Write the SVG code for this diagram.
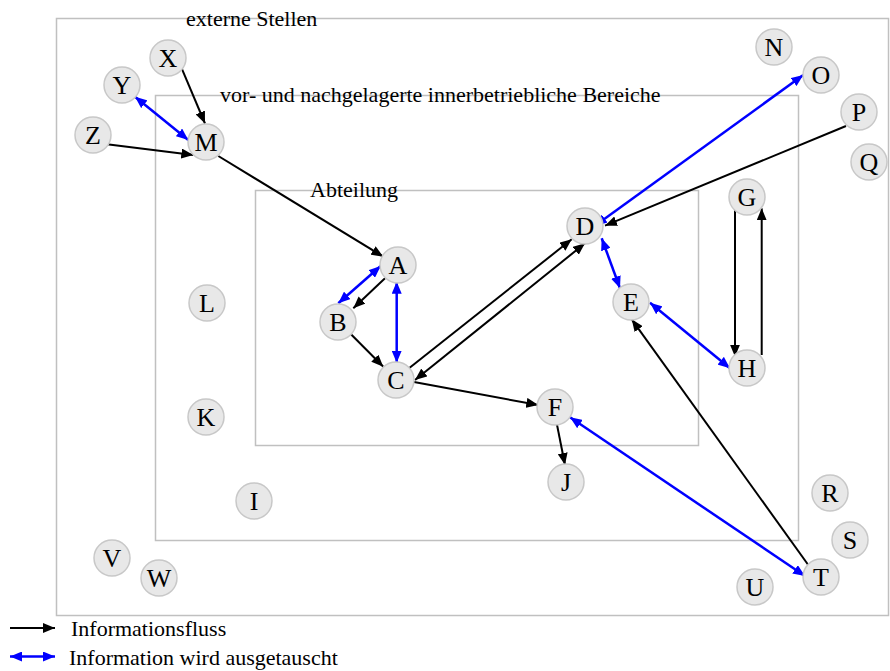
<svg xmlns="http://www.w3.org/2000/svg" width="890" height="671" viewBox="0 0 890 671">
<defs>
<style>
.area{fill:none;stroke:#c0c0c0;stroke-width:1.5}
.lbl{font-family:"Liberation Serif","Times New Roman",serif;font-size:22px;fill:#000}
.node circle{fill:#e8e8e8;stroke:#c8c8c8;stroke-width:1.5}
.node text{font-family:"Liberation Serif","Times New Roman",serif;font-size:26px;fill:#000;text-anchor:middle}
.flow{stroke:#000;stroke-width:2;fill:none;marker-end:url(#ab)}
.xchg{stroke:#0000ff;stroke-width:2.5;fill:none;marker-end:url(#au);marker-start:url(#au)}
.both{stroke:#000;stroke-width:2;fill:none;marker-end:url(#ab);marker-start:url(#ab)}
</style>
<marker id="ab" viewBox="0 0 12 10" refX="12" refY="5" markerWidth="12" markerHeight="10" markerUnits="userSpaceOnUse" orient="auto-start-reverse">
<path d="M0,0 L12,5 L0,10 z" fill="#000"/>
</marker>
<marker id="au" viewBox="0 0 12 10" refX="12" refY="5" markerWidth="12" markerHeight="10" markerUnits="userSpaceOnUse" orient="auto-start-reverse">
<path d="M0,0 L12,5 L0,10 z" fill="#0000ff"/>
</marker>
</defs>
<rect width="890" height="671" fill="#fff"/>
<g id="areas">
<rect class="area" x="56.5" y="18.5" width="832" height="597"/>
<rect class="area" x="155.5" y="95.5" width="643" height="445"/>
<rect class="area" x="255.5" y="190.5" width="443" height="255"/>
<text class="lbl" x="186" y="25.5">externe Stellen</text>
<text class="lbl" x="220" y="101.5">vor- und nachgelagerte innerbetriebliche Bereiche</text>
<text class="lbl" x="310" y="196.5">Abteilung</text>
</g>
<g id="connectors">
<line class="flow" x1="181.7" y1="68.3" x2="205" y2="123.5"/>
<line class="xchg" x1="135" y1="96.7" x2="188.3" y2="140"/>
<line class="flow" x1="105" y1="144" x2="193.3" y2="155"/>
<line class="flow" x1="218.3" y1="156" x2="383.3" y2="256.7"/>
<line class="xchg" x1="380.7" y1="266" x2="338.3" y2="303.3"/>
<line class="flow" x1="385" y1="278.3" x2="353.3" y2="308.3"/>
<line class="flow" x1="350" y1="333.3" x2="383.3" y2="366.7"/>
<line class="xchg" x1="396.7" y1="281.7" x2="396.7" y2="362.7"/>
<line class="flow" x1="409" y1="368.3" x2="571.7" y2="239.3"/>
<line class="both" x1="415" y1="380" x2="585" y2="243.3"/>
<line class="flow" x1="414" y1="382" x2="538.3" y2="405"/>
<line class="flow" x1="556.7" y1="423.3" x2="565" y2="465"/>
<line class="xchg" x1="570" y1="417.3" x2="805" y2="576"/>
<line class="flow" x1="808.3" y1="565" x2="631.7" y2="319.3"/>
<line class="xchg" x1="595" y1="225.7" x2="803.3" y2="75"/>
<line class="flow" x1="846" y1="126" x2="605" y2="225.7"/>
<line class="xchg" x1="601.7" y1="238.3" x2="620" y2="288.3"/>
<line class="xchg" x1="650" y1="302.7" x2="730" y2="368.3"/>
<line class="flow" x1="735" y1="208" x2="735" y2="356.7"/>
<line class="flow" x1="761.7" y1="355" x2="761.7" y2="208.3"/>
</g>
<g id="nodeX" class="node"><circle cx="168" cy="58" r="18"/><text x="168" y="67">X</text></g>
<g id="nodeY" class="node"><circle cx="122" cy="85" r="18"/><text x="122" y="94">Y</text></g>
<g id="nodeZ" class="node"><circle cx="93" cy="135" r="18"/><text x="93" y="144">Z</text></g>
<g id="nodeM" class="node"><circle cx="206" cy="142" r="18"/><text x="206" y="151">M</text></g>
<g id="nodeA" class="node"><circle cx="398" cy="265" r="18"/><text x="398" y="274">A</text></g>
<g id="nodeB" class="node"><circle cx="338" cy="322" r="18"/><text x="338" y="331">B</text></g>
<g id="nodeC" class="node"><circle cx="396" cy="380" r="18"/><text x="396" y="389">C</text></g>
<g id="nodeD" class="node"><circle cx="585" cy="226" r="18"/><text x="585" y="235">D</text></g>
<g id="nodeE" class="node"><circle cx="631" cy="302" r="18"/><text x="631" y="311">E</text></g>
<g id="nodeF" class="node"><circle cx="555" cy="407" r="18"/><text x="555" y="416">F</text></g>
<g id="nodeG" class="node"><circle cx="747" cy="197" r="18"/><text x="747" y="206">G</text></g>
<g id="nodeH" class="node"><circle cx="747" cy="368" r="18"/><text x="747" y="377">H</text></g>
<g id="nodeI" class="node"><circle cx="254" cy="501" r="18"/><text x="254" y="510">I</text></g>
<g id="nodeJ" class="node"><circle cx="566" cy="482" r="18"/><text x="566" y="491">J</text></g>
<g id="nodeK" class="node"><circle cx="206" cy="417" r="18"/><text x="206" y="426">K</text></g>
<g id="nodeL" class="node"><circle cx="207" cy="303" r="18"/><text x="207" y="312">L</text></g>
<g id="nodeN" class="node"><circle cx="774" cy="47" r="18"/><text x="774" y="56">N</text></g>
<g id="nodeO" class="node"><circle cx="821" cy="75" r="18"/><text x="821" y="84">O</text></g>
<g id="nodeP" class="node"><circle cx="859" cy="112" r="18"/><text x="859" y="121">P</text></g>
<g id="nodeQ" class="node"><circle cx="869" cy="162" r="18"/><text x="869" y="171">Q</text></g>
<g id="nodeR" class="node"><circle cx="830" cy="493" r="18"/><text x="830" y="502">R</text></g>
<g id="nodeS" class="node"><circle cx="850" cy="540" r="18"/><text x="850" y="549">S</text></g>
<g id="nodeT" class="node"><circle cx="821" cy="577" r="18"/><text x="821" y="586">T</text></g>
<g id="nodeU" class="node"><circle cx="755" cy="587" r="18"/><text x="755" y="596">U</text></g>
<g id="nodeV" class="node"><circle cx="112" cy="558" r="18"/><text x="112" y="567">V</text></g>
<g id="nodeW" class="node"><circle cx="159" cy="578" r="18"/><text x="159" y="587">W</text></g>
<g id="legend">
<line class="flow" x1="10" y1="628" x2="55" y2="628"/>
<text class="lbl" x="71" y="636">Informationsfluss</text>
<line class="xchg" x1="10" y1="656.5" x2="55" y2="656.5"/>
<text class="lbl" x="69" y="665">Information wird ausgetauscht</text>
</g>
</svg>
